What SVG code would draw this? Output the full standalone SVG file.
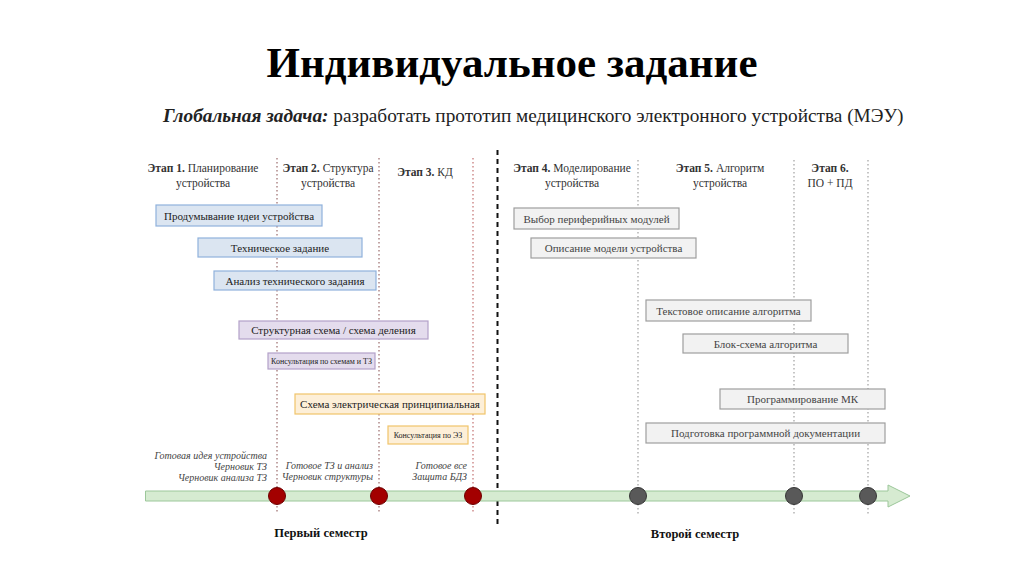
<svg xmlns="http://www.w3.org/2000/svg" width="1024" height="574" viewBox="0 0 1024 574">
<style>
text{font-family:"Liberation Serif","Times New Roman",serif;fill:#222}
.title{font-size:43px;font-weight:bold;fill:#000}
.sub{font-size:19.3px;fill:#222}
.hd{font-size:11.5px;fill:#333}
.hd tspan.b{font-weight:bold}
.bt{font-size:11px;text-anchor:middle}
.st{font-size:8px;text-anchor:middle}
.ms{font-size:10px;font-style:italic;text-anchor:end;fill:#444}
.sem{font-size:12.5px;font-weight:bold;text-anchor:middle;fill:#111}
.blue{fill:#dbe5f1;stroke:#8fb1dc;stroke-width:1.2}
.purple{fill:#e4dced;stroke:#b3a1c9;stroke-width:1.2}
.orange{fill:#fdefd8;stroke:#f0c46a;stroke-width:1.2}
.gray{fill:#f2f2f2;stroke:#9e9e9e;stroke-width:1.2}
.gray-t{fill:#444}
.vl{stroke:#9a6a6a;stroke-width:1.2;stroke-dasharray:1.5,2.5;fill:none}
.vg{stroke:#a0a0a0;stroke-width:1.2;stroke-dasharray:1.5,2.5;fill:none}
.mr{fill:#a30000;stroke:#6d0000;stroke-width:1}
.mg{fill:#595959;stroke:#363636;stroke-width:1}
</style>
<rect width="1024" height="574" fill="#fff"/>
<text class="title" x="512" y="77" text-anchor="middle">Индивидуальное задание</text>
<text class="sub" x="163" y="122"><tspan font-weight="bold" font-style="italic">Глобальная задача:</tspan> разработать прототип медицинского электронного устройства (МЭУ)</text>

<g id="connectors">
<line class="vl" x1="277" y1="158" x2="277" y2="514"/>
<line class="vl" x1="379" y1="158" x2="379" y2="514"/>
<line class="vl" x1="473" y1="158" x2="473" y2="514" style="stroke:#c27070"/>
<line x1="497.5" y1="150" x2="497.5" y2="528" stroke="#111" stroke-width="2" stroke-dasharray="5,4"/>
<line class="vg" x1="638" y1="160" x2="638" y2="514"/>
<line class="vg" x1="794" y1="160" x2="794" y2="514"/>
<line class="vg" x1="868" y1="160" x2="868" y2="514"/>
<path id="timeline" d="M145.5,491 H888 V485 L910,496 L888,507 V501 H145.5 Z" fill="#d6ebd1" stroke="#9cc79a" stroke-width="1"/>
</g>

<g id="headers">
<text class="hd" text-anchor="middle" x="203" y="172"><tspan class="b">Этап 1.</tspan> Планирование</text>
<text class="hd" text-anchor="middle" x="203" y="187">устройства</text>
<text class="hd" text-anchor="middle" x="328" y="172"><tspan class="b">Этап 2.</tspan> Структура</text>
<text class="hd" text-anchor="middle" x="328" y="187">устройства</text>
<text class="hd" text-anchor="middle" x="425" y="176"><tspan class="b">Этап 3.</tspan> КД</text>
<text class="hd" text-anchor="middle" x="572" y="172"><tspan class="b">Этап 4.</tspan> Моделирование</text>
<text class="hd" text-anchor="middle" x="572" y="187">устройства</text>
<text class="hd" text-anchor="middle" x="720" y="172"><tspan class="b">Этап 5.</tspan> Алгоритм</text>
<text class="hd" text-anchor="middle" x="720" y="187">устройства</text>
<text class="hd" text-anchor="middle" x="830" y="172"><tspan class="b">Этап 6.</tspan></text>
<text class="hd" text-anchor="middle" x="830" y="187">ПО + ПД</text>
</g>

<g id="t1"><rect class="blue" x="156" y="205" width="166" height="21"/><text class="bt" x="239" y="219.5">Продумывание идеи устройства</text></g>
<g id="t2"><rect class="blue" x="198" y="238" width="164" height="19"/><text class="bt" x="280" y="251.5">Техническое задание</text></g>
<g id="t3"><rect class="blue" x="214" y="271" width="162" height="19"/><text class="bt" x="295" y="284.5">Анализ технического задания</text></g>
<g id="t4"><rect class="purple" x="239" y="321" width="189" height="18"/><text class="bt" x="333.5" y="334">Структурная схема / схема деления</text></g>
<g id="t5"><rect class="purple" x="268" y="353" width="107" height="16"/><text class="st" x="321.5" y="364">Консультация по схемам и ТЗ</text></g>
<g id="t6"><rect class="orange" x="295" y="394" width="190" height="20"/><text class="bt" x="390" y="408">Схема электрическая принципиальная</text></g>
<g id="t7"><rect class="orange" x="388" y="426" width="80" height="18"/><text class="st" x="428" y="438">Консультация по ЭЗ</text></g>

<g id="t8"><rect class="gray" x="514" y="208" width="165" height="21"/><text class="bt gray-t" x="596.5" y="222.5">Выбор периферийных модулей</text></g>
<g id="t9"><rect class="gray" x="531" y="238" width="165" height="20"/><text class="bt gray-t" x="613.5" y="252">Описание модели устройства</text></g>
<g id="t10"><rect class="gray" x="646" y="300" width="165" height="21"/><text class="bt gray-t" x="728.5" y="314.5">Текстовое описание алгоритма</text></g>
<g id="t11"><rect class="gray" x="683" y="334" width="165" height="19"/><text class="bt gray-t" x="765.5" y="347.5">Блок-схема алгоритма</text></g>
<g id="t12"><rect class="gray" x="720" y="389" width="165" height="20"/><text class="bt gray-t" x="802.5" y="403">Программирование МК</text></g>
<g id="t13"><rect class="gray" x="646" y="423" width="239" height="20"/><text class="bt gray-t" x="765.5" y="437">Подготовка программной документации</text></g>

<g id="m1"><circle class="mr" cx="277" cy="496" r="8.5"/>
<text class="ms" x="267" y="459">Готовая идея устройства</text>
<text class="ms" x="267" y="470">Черновик ТЗ</text>
<text class="ms" x="267" y="481">Черновик анализа ТЗ</text></g>
<g id="m2"><circle class="mr" cx="379" cy="496" r="8.5"/>
<text class="ms" x="373" y="469">Готовое ТЗ и анализ</text>
<text class="ms" x="373" y="480">Черновик структуры</text></g>
<g id="m3"><circle class="mr" cx="473" cy="496" r="8.5"/>
<text class="ms" x="467" y="469">Готовое все</text>
<text class="ms" x="467" y="480">Защита БДЗ</text></g>
<g id="m4"><circle class="mg" cx="638" cy="496" r="8.5"/></g>
<g id="m5"><circle class="mg" cx="794" cy="496" r="8.5"/></g>
<g id="m6"><circle class="mg" cx="868" cy="496" r="8.5"/></g>

<text class="sem" x="321" y="537">Первый семестр</text>
<text class="sem" x="695" y="538">Второй семестр</text>
</svg>
